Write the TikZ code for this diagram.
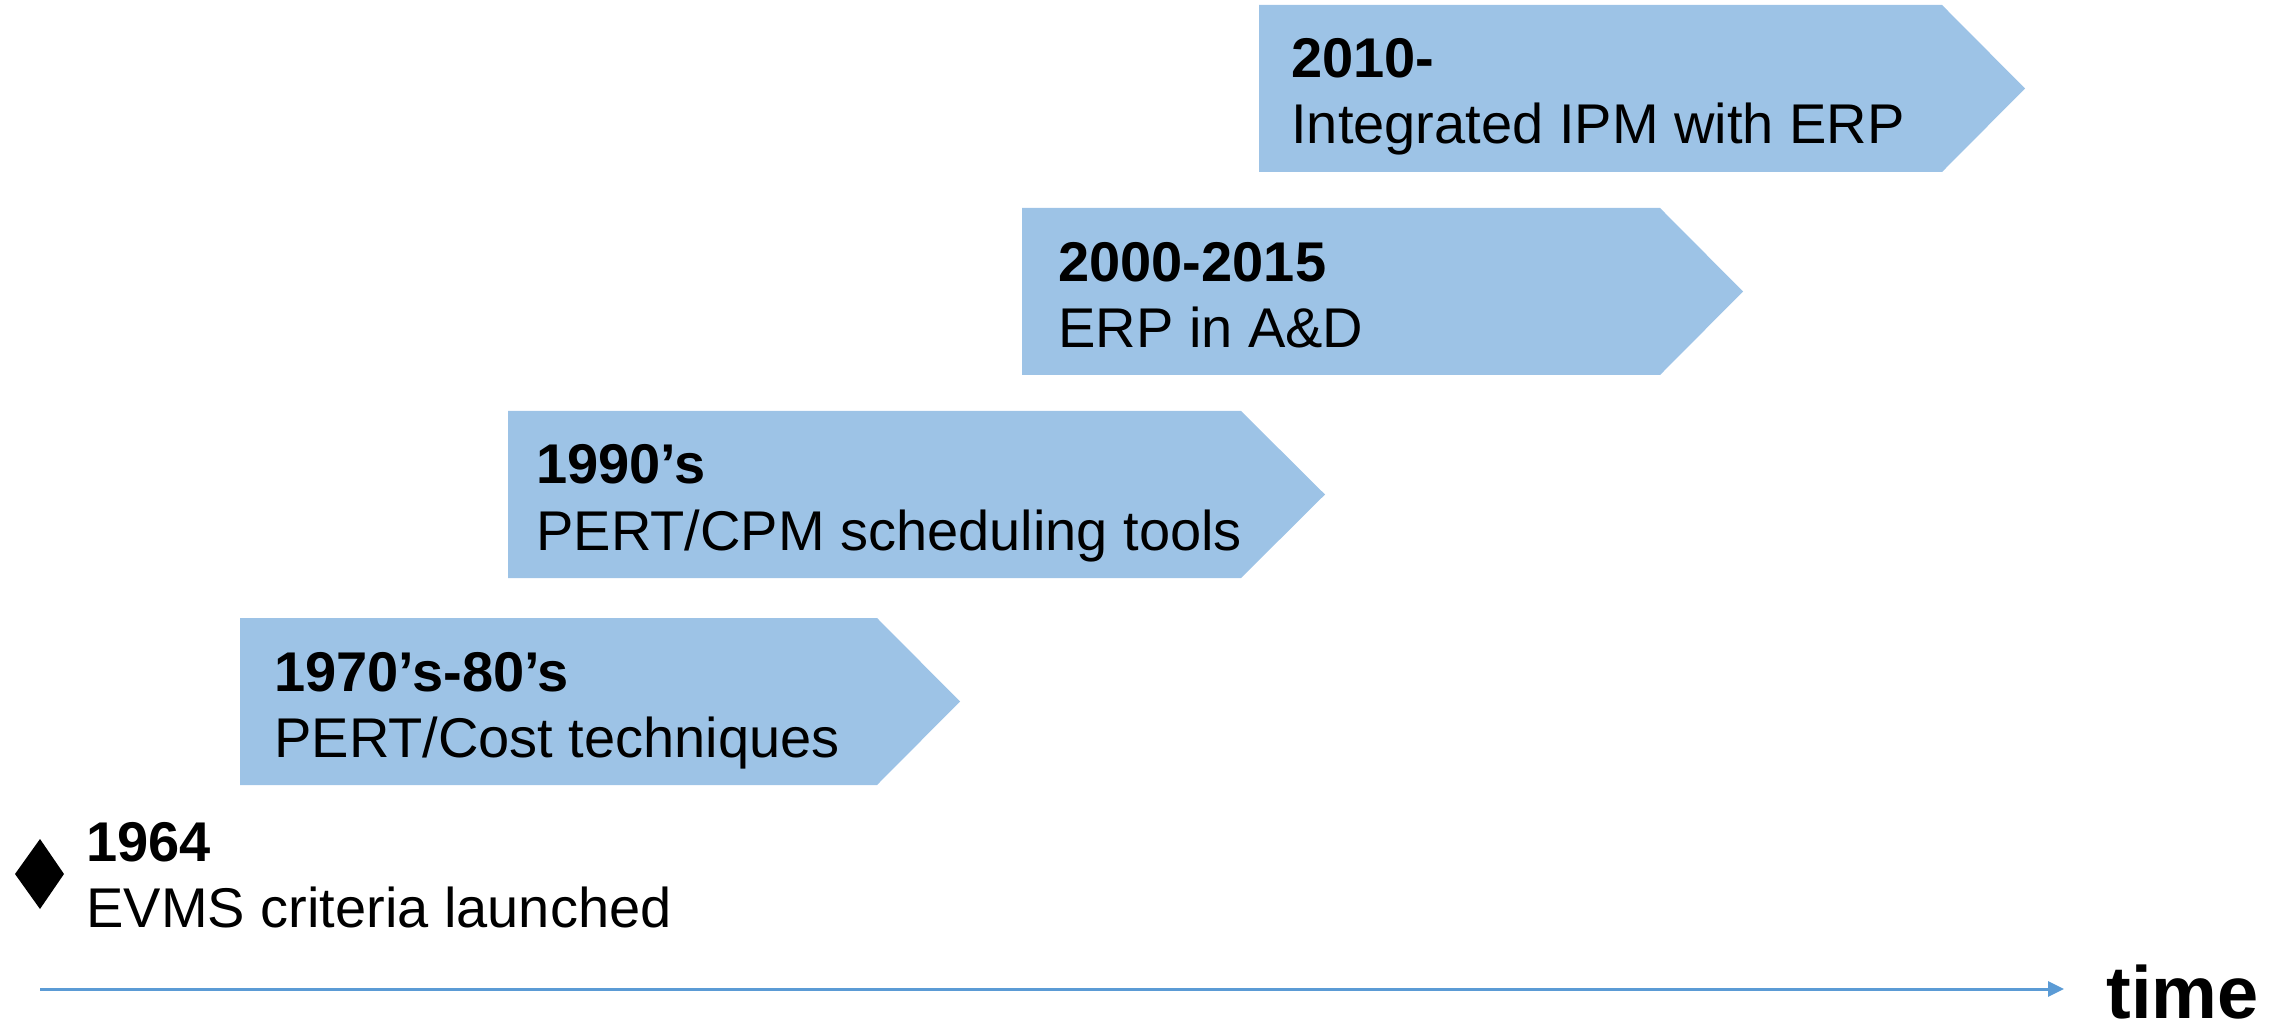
\documentclass[tikz,border=0pt]{standalone}
\usepackage{fontspec}
\setmainfont{Liberation Sans}
\usetikzlibrary{arrows.meta}
\definecolor{boxblue}{HTML}{9DC3E6}
\definecolor{axisblue}{HTML}{5B9BD5}
\begin{document}
\begin{tikzpicture}[x=0.5pt,y=-0.5pt,
  stage/.style={fill=boxblue},
  yr/.style={anchor=base west, inner sep=0pt, font=\fontsize{28}{33}\selectfont\bfseries},
  desc/.style={anchor=base west, inner sep=0pt, font=\fontsize{28}{33}\selectfont},
  axisline/.style={draw=axisblue, line width=1.5pt, -{Triangle[length=8pt,width=7.5pt]}}]
\useasboundingbox (0,0) rectangle (2295,1031);
% stage arrows
\fill[stage] (240,618) -- (877,618) -- (960,701.5) -- (877,785) -- (240,785) -- cycle;
\fill[stage] (508,411) -- (1241,411) -- (1325,494.5) -- (1241,578) -- (508,578) -- cycle;
\fill[stage] (1022,208) -- (1660,208) -- (1743,291.5) -- (1660,375) -- (1022,375) -- cycle;
\fill[stage] (1259,5) -- (1942,5) -- (2025,88.5) -- (1942,172) -- (1259,172) -- cycle;
% milestone diamond
\fill[black] (40,839) -- (64,874) -- (40,909) -- (15,874) -- cycle;
% texts
\node[yr]   (y1964) at (86,861) {1964};
\node[desc] (d1964) at (86,927) {EVMS criteria launched};
\node[yr]   (y1970) at (274,691) {1970’s-80’s};
\node[desc] (d1970) at (274,757) {PERT/Cost techniques};
\node[yr]   (y1990) at (536,484) {1990’s};
\node[desc] (d1990) at (536,551) {PERT/CPM scheduling tools};
\node[yr]   (y2000) at (1058,282) {2000-2015};
\node[desc] (d2000) at (1058,348) {ERP in A\&D};
\node[yr]   (y2010) at (1291,78) {2010-};
\node[desc] (d2010) at (1291,144) {Integrated IPM with ERP};
% time axis
\coordinate (axs) at (40,989);
\coordinate (axe) at (2064,989);
\draw[axisline] (axs) -- (axe);
\node[anchor=base west, inner sep=0pt, font=\fontsize{37}{40}\selectfont\bfseries] (time) at (2106,1018) {time};
\end{tikzpicture}
\end{document}
